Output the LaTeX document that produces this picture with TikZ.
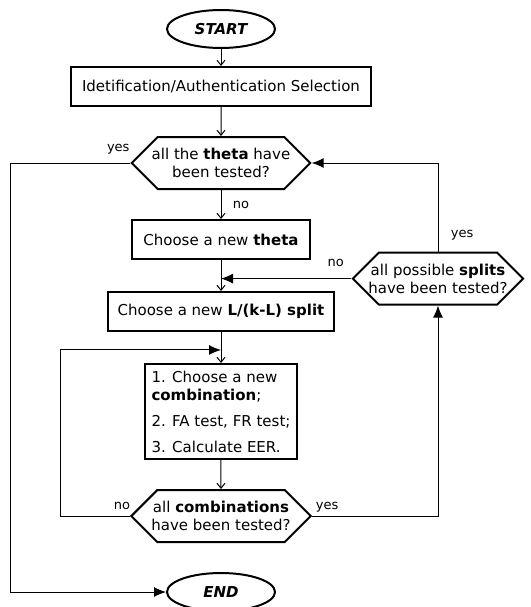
\documentclass[tikz,border=0pt]{standalone}
\usepackage{fontspec}
\setmainfont{DejaVu Sans}
\usetikzlibrary{shapes.geometric, shapes.symbols, arrows.meta, positioning, calc}

\begin{document}
\begin{tikzpicture}[
    x=1pt, y=1pt,
    font=\fontsize{15}{18}\selectfont,
    terminal/.style={ellipse, draw, line width=2pt, minimum width=108pt,
                     minimum height=38pt, inner sep=0pt, font=\fontsize{15}{18}\selectfont\bfseries\itshape},
    process/.style={rectangle, draw, line width=2pt, minimum height=39pt,
                    inner xsep=11pt, text centered},
    decision/.style={signal, signal to=east and west, signal pointer angle=90,
                     draw, line width=2pt, minimum height=52pt, inner xsep=-6pt,
                     inner ysep=2pt, align=center},
    arrow/.style={-{Straight Barb[length=5pt,width=8pt]}, line width=1pt},
    bigarrow/.style={-{Latex[length=12pt,width=10pt]}, line width=1pt},
    lbl/.style={font=\fontsize{13}{15}\selectfont},
    node distance=29pt
]
\useasboundingbox (0,0) rectangle (530,-607);

% Main column
\node[terminal] (start) at (221,-29) {START};
\node[process, below=17pt of start] (ident) {Idetification/Authentication Selection};
\node[decision, below=of ident] (allth) {all the \textbf{theta} have\\been tested?};
\node[process, below=of allth] (newth) {Choose a new \textbf{theta}};
\node[process, inner xsep=10pt, below=31pt of newth] (split) {Choose a new \textbf{L/(k-L) split}};
\node[process, inner xsep=7pt, align=left, minimum height=95pt, below=31pt of split] (combo)
    {1. Choose a new\\\textbf{combination};\\[8pt]2. FA test, FR test;\\[8pt]3. Calculate EER.};
\node[decision, below=of combo] (allco) {all \textbf{combinations}\\have been tested?};
\node[terminal, below=of allco] (end) {END};

% Joints on the main line
\coordinate (join1) at ($(newth.south)!0.6!(split.north)$);
\coordinate (join2) at ($(split.south)!0.58!(combo.north)$);

% Side test
\node[decision, inner xsep=-10.5pt] (allsp) at ($(join1)+(217,0)$) {all possible \textbf{splits}\\have been tested?};

% Connections
\draw[arrow] (start) -- (ident);
\draw[arrow] (ident) -- (allth);
\draw[arrow] (allth) -- node[lbl, pos=0.5, right=8pt]{no} (newth);
\draw[arrow] (newth) -- (split);
\draw[arrow] (split) -- (combo);
\draw[arrow] (combo) -- (allco);
\draw[bigarrow] (allsp.west) -- node[lbl, pos=0.12, above=8pt]{no} (join1);
\draw[bigarrow] (allsp.north) |- node[lbl, pos=0.09, right=9pt]{yes} (allth.east);
\draw[bigarrow] (allco.west) node[lbl, above left, xshift=4pt, yshift=2pt]{no} -- ++(-69,0) |- (join2);
\draw[bigarrow] (allco.east) node[lbl, above right]{yes} -| (allsp.south);
\draw[bigarrow] (allth.west) node[lbl, above left, xshift=3pt, yshift=5pt]{yes} -- ++(-120,0) |- (end.west);
\end{tikzpicture}
\end{document}
